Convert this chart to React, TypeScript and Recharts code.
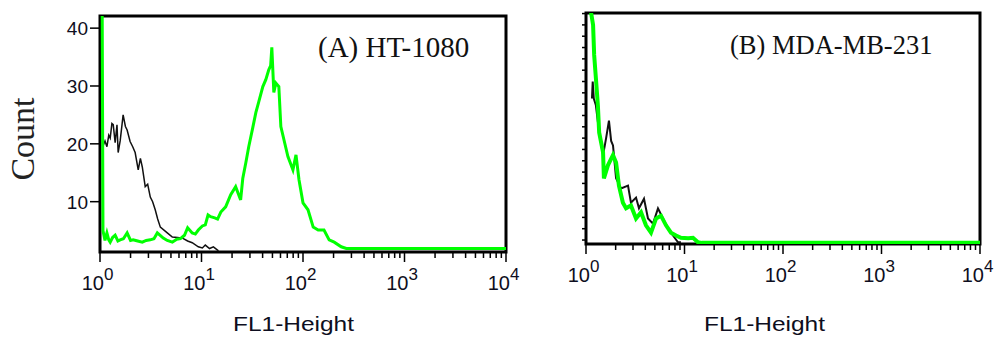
import { LineChart, Line, XAxis, YAxis, ReferenceArea } from "recharts";

// ---- HT-1080 panel (A) ----
const htControlX = [1.08, 1.12, 1.17, 1.22, 1.26, 1.31, 1.35, 1.41, 1.47, 1.51, 1.58, 1.69, 1.78, 1.85, 1.98, 2.1, 2.22, 2.38, 2.5, 2.61, 2.79, 2.95, 3.13, 3.3, 3.5, 3.7, 3.93, 4.6, 5.16, 5.8, 6.5, 7.3, 8.1, 9.3, 10.2, 10.9, 12.0, 13.1, 14.7];
const htControlY = [19.8, 20.5, 19.5, 21.5, 21.0, 23.5, 23.3, 20.2, 23.3, 18.5, 20.5, 25.0, 23.0, 22.4, 20.4, 19.5, 18.5, 15.5, 17.5, 16.0, 12.6, 13.0, 10.8, 10.0, 8.6, 7.0, 5.6, 4.6, 3.9, 3.8, 3.7, 3.2, 2.9, 2.2, 2.0, 2.5, 1.9, 2.2, 1.5];

const htStainX = [1.02, 1.05, 1.07, 1.12, 1.17, 1.22, 1.26, 1.33, 1.41, 1.5, 1.58, 1.7, 1.85, 2.0, 2.12, 2.35, 2.61, 2.85, 3.13, 3.4, 3.67, 4.2, 4.6, 5.16, 5.7, 6.2, 6.8, 7.3, 8.1, 8.7, 9.3, 10.2, 10.9, 11.6, 12.3, 13.5, 14.4, 15.5, 17.3, 19.4, 21.7, 24.3, 25.5, 27.3, 29.2, 32, 34.3, 36.7, 40.2, 43, 46, 48, 49.3, 51.6, 54, 57.8, 60.5, 64.9, 71, 79.6, 85.3, 91.3, 100, 112, 126, 141, 161, 181, 203, 238, 267, 10000];
const htStainY = [45, 45, 5.0, 3.3, 4.6, 3.4, 3.0, 3.8, 4.2, 3.2, 3.4, 3.6, 4.6, 3.3, 3.4, 3.2, 3.0, 3.3, 3.4, 3.6, 4.6, 3.7, 3.3, 3.0, 3.5, 3.6, 4.2, 5.5, 4.6, 4.4, 5.1, 5.8, 6.0, 7.7, 7.4, 7.2, 7.0, 8.2, 9.1, 11.2, 12.6, 10.3, 14.0, 16.7, 19.5, 22.8, 25.4, 27.3, 29.9, 31.1, 32.8, 33.5, 36.7, 28.9, 30.5, 29.9, 23.0, 20.7, 17.8, 15.5, 18.1, 13.8, 9.8, 8.6, 5.6, 5.1, 5.1, 3.4, 3.0, 2.2, 1.9, 1.9];

// ---- MDA-MB-231 panel (B) ----
const mdaControlX = [1.15, 1.17, 1.2, 1.26, 1.36, 1.49, 1.6, 1.71, 1.8, 1.88, 2.02, 2.27, 2.67, 2.86, 3.22, 3.45, 3.88, 4.26, 4.79, 5.38, 6.05, 6.8, 7.64, 8.59, 9.2];
const mdaControlY = [27.0, 30.0, 27.0, 25.8, 21.0, 17.0, 20.0, 23.1, 19.5, 18.7, 12.9, 11.1, 11.6, 8.6, 9.5, 7.6, 9.3, 5.8, 4.9, 7.6, 5.8, 4.0, 2.8, 1.6, 1.6];

const mdaStainX = [1.02, 1.06, 1.18, 1.21, 1.26, 1.32, 1.36, 1.49, 1.52, 1.67, 1.88, 2.02, 2.16, 2.37, 2.55, 2.86, 3.22, 3.62, 4.06, 4.57, 5.14, 5.77, 6.49, 7.29, 8.2, 9.2, 10.9, 12.2, 13.7, 15, 10000];
const mdaStainY = [45, 45, 40.0, 34.7, 30.6, 25.8, 21.0, 17.5, 12.9, 15.2, 17.0, 15.7, 11.6, 8.6, 7.6, 8.1, 5.8, 6.9, 4.6, 3.3, 5.8, 6.3, 4.6, 3.3, 2.8, 2.4, 2.3, 2.4, 1.6, 1.5, 1.5];

// ---- axes ----
const decadeTicks = [1, 10, 100, 1000, 10000];
const minorTicks = [2, 3, 4, 5, 6, 7, 8, 9, 20, 30, 40, 50, 60, 70, 80, 90, 200, 300, 400, 500, 600, 700, 800, 900, 2000, 3000, 4000, 5000, 6000, 7000, 8000, 9000];
const countTicks = [10, 20, 30, 40];
const countMinorTicks = [2, 4, 6, 8, 10, 12, 14, 16, 18, 20, 22, 24, 26, 28, 30, 32, 34, 36, 38, 40, 42];
const yDomain = [1.3, 42.1];

const toPoints = (xs: number[], ys: number[]) => xs.map((x, i) => ({ x, y: ys[i] }));

const GREEN = "#00ff00";
const INK = "#0e0e20";
const SANS = "'Liberation Sans', Arial, sans-serif";
const SERIF = "'Liberation Serif', 'Times New Roman', serif";

// log x axis tick: short mark for 2..9, long mark + 10^n for decades
// (tickSize/tickMargin are 0, so y is the bottom edge of the plot)
function LogTick(props: any) {
  const { x, y, payload } = props;
  const v = payload.value;
  const major = decadeTicks.includes(v);
  const exp = Math.round(Math.log10(v));
  return (
    <g>
      <rect x={x - 0.75} y={y} width={1.5} height={major ? 10 : 6} fill="#000" />
      {major && (
        <text x={x + 4} y={y + 38} textAnchor="end" fontFamily={SANS} fontSize={20} fill={INK}>
          10
        </text>
      )}
      {major && (
        <text x={x + 4} y={y + 28} textAnchor="start" fontFamily={SANS} fontSize={17} fill={INK}>
          {exp}
        </text>
      )}
    </g>
  );
}

// y axis tick: mark to the left of the frame, optional number
function CountTick(props: any) {
  const { x, y, payload, len, showLabel } = props;
  return (
    <g>
      <rect x={x - len} y={y - 0.75} width={len} height={1.5} fill="#000" />
      {showLabel && (
        <text x={x - len - 2} y={y} dy={7} textAnchor="end" fontFamily={SANS} fontSize={19} fill={INK}>
          {payload.value}
        </text>
      )}
    </g>
  );
}

export default function App() {
  const htControl = toPoints(htControlX, htControlY);
  const htStain = toPoints(htStainX, htStainY);
  const mdaControl = toPoints(mdaControlX, mdaControlY);
  const mdaStain = toPoints(mdaStainX, mdaStainY);
  const xTicks = [...decadeTicks, ...minorTicks].sort((a, b) => a - b);

  const xAxisProps = {
    dataKey: "x",
    type: "number" as const,
    scale: "log" as const,
    domain: [1, 10000],
    allowDataOverflow: true,
    ticks: xTicks,
    interval: 0,
    tickSize: 0,
    tickMargin: 0,
    tickLine: false,
    axisLine: false,
    tick: <LogTick />,
    height: 80,
  };

  return (
    <div style={{ position: "absolute", left: 0, top: 0, width: 997, height: 337, background: "#fff" }}>
      <div style={{ position: "absolute", left: 0, top: 0 }}>
        <LineChart width={520} height={337} margin={{ top: 16, right: 14, bottom: 5, left: 0 }}>
          <XAxis {...xAxisProps} />
          <YAxis
            type="number"
            domain={yDomain}
            allowDataOverflow
            ticks={countTicks}
            interval={0}
            width={100}
            tickSize={0}
            tickMargin={0}
            axisLine={false}
            tickLine={false}
            tick={<CountTick len={10} showLabel />}
          />
          <ReferenceArea x1={1} x2={10000} y1={yDomain[0]} y2={yDomain[1]} fill="none" stroke="#000" strokeWidth={3} ifOverflow="visible" />
          <Line data={htControl} dataKey="y" type="linear" stroke="#111" strokeWidth={1.5} dot={false} isAnimationActive={false} />
          <Line data={htStain} dataKey="y" type="linear" stroke={GREEN} strokeWidth={3} dot={false} isAnimationActive={false} />
        </LineChart>
      </div>
      <div style={{ position: "absolute", left: 520, top: 0 }}>
        <LineChart width={477} height={337} margin={{ top: 13, right: 17, bottom: 13, left: 0 }}>
          <XAxis {...xAxisProps} />
          <YAxis
            type="number"
            domain={yDomain}
            allowDataOverflow
            ticks={countMinorTicks}
            interval={0}
            width={66}
            tickSize={0}
            tickMargin={0}
            axisLine={false}
            tickLine={false}
            tick={<CountTick len={4} showLabel={false} />}
          />
          <ReferenceArea x1={1} x2={10000} y1={yDomain[0]} y2={yDomain[1]} fill="none" stroke="#000" strokeWidth={3} ifOverflow="visible" />
          <Line data={mdaControl} dataKey="y" type="linear" stroke="#111" strokeWidth={2} dot={false} isAnimationActive={false} />
          <Line data={mdaStain} dataKey="y" type="linear" stroke={GREEN} strokeWidth={4} dot={false} isAnimationActive={false} />
        </LineChart>
      </div>
      <svg width={997} height={337} style={{ position: "absolute", left: 0, top: 0, pointerEvents: "none" }}>
        <text transform="translate(34,139) rotate(-90)" textAnchor="middle" fontFamily={SERIF} fontSize={34} fill="#222">
          Count
        </text>
        <text x={318} y={57} fontFamily={SERIF} fontSize={29} fill="#111">
          (A) HT-1080
        </text>
        <text x={730} y={54} fontFamily={SERIF} fontSize={26.5} fill="#111">
          (B) MDA-MB-231
        </text>
        <text x={233} y={331} fontFamily={SANS} fontSize={21} textLength={121} lengthAdjust="spacingAndGlyphs" fill={INK}>
          FL1-Height
        </text>
        <text x={704} y={331} fontFamily={SANS} fontSize={21} textLength={121} lengthAdjust="spacingAndGlyphs" fill={INK}>
          FL1-Height
        </text>
      </svg>
    </div>
  );
}
